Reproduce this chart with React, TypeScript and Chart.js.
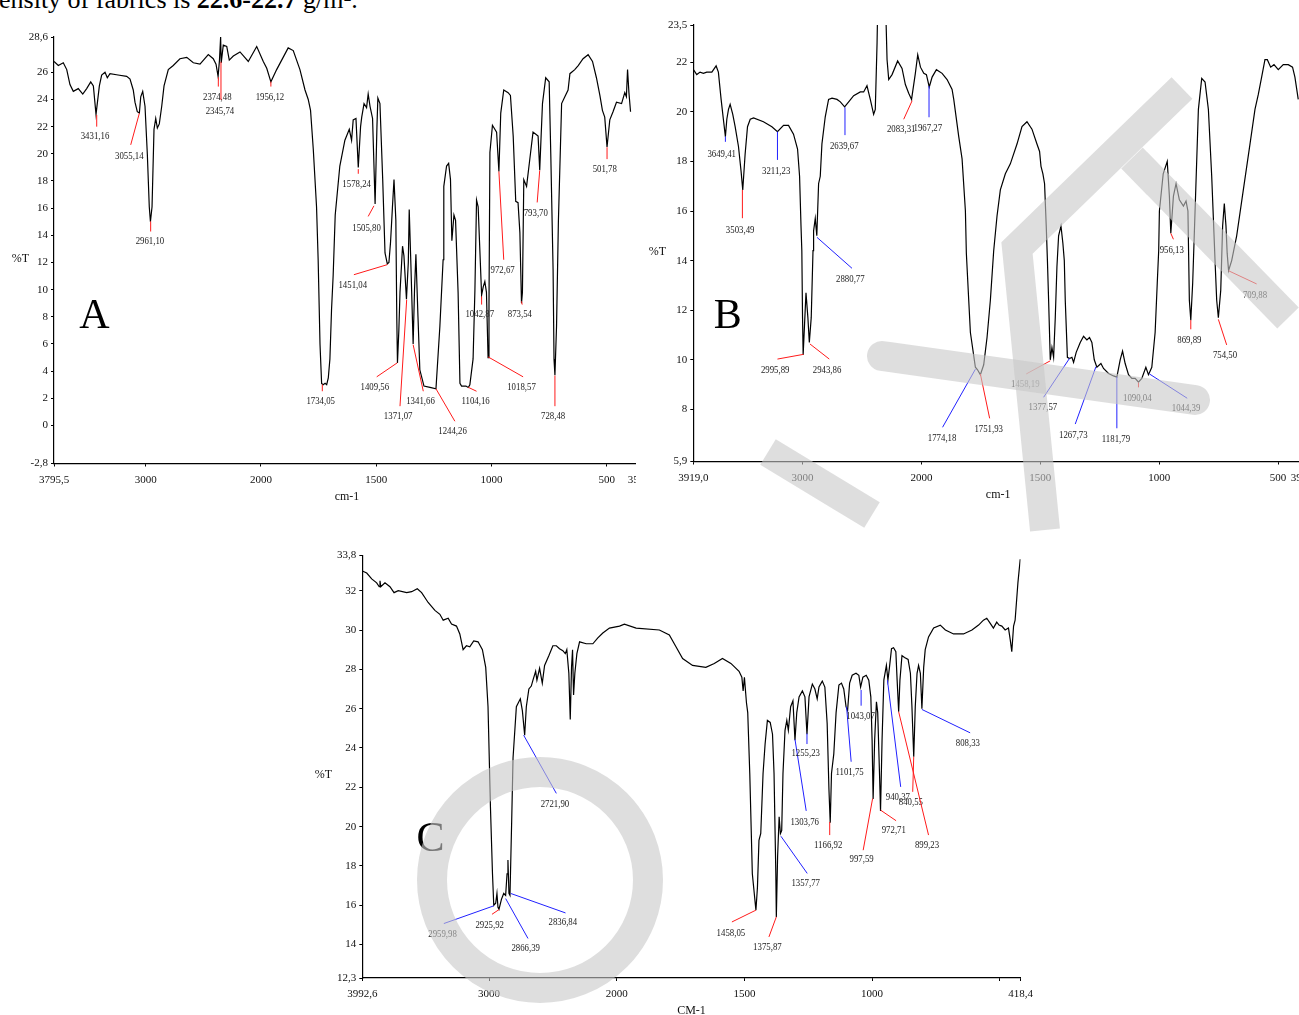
import React, { useEffect, useRef } from "react";
import { Chart, registerables } from "chart.js";

Chart.register(...registerables);

// ---------- Spectrum A: [wavenumber cm-1, %T] ----------
const A_SPECTRUM: [number, number][] = [
  [3795.5, 26.8], [3758, 26.5], [3715, 26.7], [3685, 26.2], [3657, 25.1], [3628, 24.6], [3585, 24.8], [3546, 24.4],
  [3512, 24.8], [3477, 25.3], [3454, 25.0], [3431, 22.9], [3402, 25.0], [3382, 25.8], [3353, 26.0], [3333, 25.6],
  [3310, 25.9], [3240, 25.8], [3165, 25.7], [3136, 25.5], [3108, 24.7], [3093, 23.8], [3073, 23.1], [3055, 23.0],
  [3043, 24.2], [3026, 24.6], [3006, 23.5], [2986, 20.0], [2969, 16.1], [2959, 15.0], [2945, 16.1], [2928, 21.8],
  [2913, 22.6], [2899, 21.9], [2882, 22.2], [2861, 23.5], [2841, 25.0], [2804, 26.2], [2761, 26.5], [2703, 27.0],
  [2644, 27.1], [2587, 26.7], [2529, 26.6], [2457, 27.3], [2414, 27.0], [2390, 26.6], [2372, 25.7], [2360, 26.9],
  [2350, 28.6], [2345, 26.7], [2327, 28.0], [2297, 27.9], [2275, 26.9], [2240, 27.2], [2182, 27.5], [2110, 26.8],
  [2037, 27.9], [1990, 26.8], [1975, 26.3], [1957, 25.3], [1932, 26.2], [1882, 27.8], [1860, 27.6], [1831, 26.2],
  [1809, 24.7], [1795, 24.0], [1785, 23.2], [1773, 20.3], [1759, 16.1], [1752, 12.2], [1744, 6.0], [1737, 3.1],
  [1730, 3.0], [1722, 3.1], [1715, 3.0], [1708, 3.5], [1701, 4.9], [1694, 8.5], [1687, 11.0], [1678, 15.5],
  [1658, 19.1], [1636, 21.0], [1617, 21.8], [1607, 21.0], [1600, 22.5], [1588, 22.6], [1578, 19.0], [1568, 22.0],
  [1563, 22.7], [1553, 23.7], [1542, 23.4], [1535, 24.4], [1527, 23.5], [1516, 22.6], [1505, 16.3], [1497, 22.0],
  [1493, 24.1], [1484, 23.7], [1472, 18.1], [1462, 12.7], [1452, 11.9], [1445, 12.0], [1438, 13.5], [1430, 16.0],
  [1423, 18.1], [1415, 15.1], [1411, 8.0], [1408, 4.6], [1402, 7.0], [1397, 9.8], [1386, 13.2], [1380, 12.5],
  [1369, 9.3], [1361, 12.0], [1357, 15.9], [1350, 12.0], [1340, 6.0], [1334, 10.0], [1328, 12.6], [1319, 8.0],
  [1311, 4.1], [1293, 2.9], [1267, 2.8], [1241, 2.7], [1224, 7.3], [1210, 12.2], [1207, 17.6], [1195, 19.1],
  [1186, 19.3], [1178, 18.1], [1172, 13.6], [1163, 15.5], [1156, 15.1], [1145, 9.8], [1137, 3.1], [1130, 2.9],
  [1111, 2.9], [1101, 2.8], [1094, 3.0], [1080, 4.9], [1072, 10.0], [1065, 16.6], [1058, 16.1], [1043, 9.6],
  [1036, 10.2], [1029, 10.6], [1022, 9.8], [1015, 5.0], [1011, 9.0], [1007, 20.1], [996, 22.1], [978, 21.6],
  [968, 18.7], [960, 23.0], [947, 24.7], [928, 24.5], [918, 24.3], [906, 21.3], [895, 16.5], [885, 16.4],
  [877, 14.2], [870, 9.0], [866, 9.8], [860, 18.1], [848, 17.6], [834, 19.6], [820, 21.6], [805, 21.4],
  [798, 21.3], [791, 18.8], [779, 23.7], [765, 25.6], [750, 25.3], [743, 20.0], [733, 11.5], [729, 4.9],
  [725, 3.7], [718, 7.3], [710, 15.0], [696, 23.7], [682, 24.2], [668, 24.7], [660, 25.9], [639, 26.2],
  [624, 26.5], [603, 27.0], [581, 27.3], [562, 26.8], [545, 25.6], [530, 24.3], [519, 23.2], [509, 22.7],
  [499, 20.5], [487, 22.5], [473, 23.1], [458, 23.8], [436, 23.7], [422, 24.5], [415, 24.2], [410, 26.2],
  [404, 24.5], [397, 23.1],
];
const A_X_TICKS = [3795.5, 3000, 2000, 1500, 1000, 500, 356];
const A_X_TICK_LABELS = ["3795,5", "3000", "2000", "1500", "1000", "500", "356,0"];
const A_Y_TICKS = [-2.8, 0, 2, 4, 6, 8, 10, 12, 14, 16, 18, 20, 22, 24, 26, 28.6];
// [label, line from (w,T), line to (w,T), label centre (w,T), colour]
const A_PEAKS: [string, number, number, number, number, number, number, string][] = [
  ["3431,16", 3425, 22.86, 3425, 22.0, 3440, 21.34, "r"],
  ["3055,14", 3055, 22.99, 3130, 20.66, 3142, 19.85, "r"],
  ["2961,10", 2957, 15.02, 2957, 14.28, 2963, 13.6, "r"],
  ["2374,48", 2370, 25.64, 2370, 24.95, 2379, 24.26, "r"],
  ["2345,74", 2347, 26.78, 2347, 23.97, 2356, 23.23, "r"],
  ["1956,12", 1957, 25.31, 1957, 24.95, 1961, 24.21, "r"],
  ["1734,05", 1734, 3.01, 1734, 2.52, 1741, 1.84, "r"],
  ["1578,24", 1578, 18.87, 1578, 18.53, 1585, 17.84, "r"],
  ["1505,80", 1510, 16.17, 1535, 15.39, 1542, 14.61, "r"],
  ["1451,04", 1452, 11.84, 1597, 11.1, 1602, 10.36, "r"],
  ["1409,56", 1409, 4.61, 1498, 3.58, 1506, 2.84, "r"],
  ["1371,07", 1368, 9.26, 1397, 1.42, 1405, 0.73, "r"],
  ["1341,66", 1340, 5.95, 1296, 2.52, 1308, 1.84, "r"],
  ["1244,26", 1241, 2.7, 1159, 0.31, 1169, -0.35, "r"],
  ["1104,16", 1101, 2.81, 1065, 2.52, 1069, 1.84, "r"],
  ["1042,87", 1043, 9.5, 1043, 8.9, 1051, 8.23, "r"],
  ["1018,57", 1015, 5.05, 863, 3.58, 870, 2.84, "r"],
  ["972,67", 968, 18.7, 947, 12.2, 952, 11.47, "r"],
  ["873,54", 870, 9.14, 867, 8.9, 877, 8.23, "r"],
  ["793,70", 791, 18.77, 802, 16.42, 808, 15.68, "r"],
  ["728,48", 725, 3.67, 725, 1.42, 733, 0.73, "r"],
  ["501,78", 499, 20.49, 499, 19.61, 509, 18.95, "r"],
];

// ---------- Spectrum B ----------
const B_SPECTRUM: [number, number][] = [
  [3918, 21.7], [3890, 21.5], [3862, 21.6], [3834, 21.55], [3806, 21.6], [3763, 21.6], [3727, 21.85], [3708, 21.6],
  [3685, 20.5], [3666, 19.7], [3649, 19.0], [3637, 19.7], [3623, 20.1], [3609, 20.3], [3587, 19.9], [3567, 19.4],
  [3539, 18.6], [3517, 17.6], [3503, 16.85], [3483, 18.3], [3463, 19.4], [3440, 19.7], [3412, 19.75], [3329, 19.6],
  [3258, 19.4], [3211, 19.2], [3160, 19.45], [3118, 19.45], [3076, 19.1], [3042, 18.5], [3025, 17.4], [3013, 15.4],
  [3006, 14.4], [3000, 11.7], [2995, 10.2], [2971, 12.7], [2955, 11.7], [2943, 10.7], [2927, 11.7], [2912, 14.4],
  [2907, 15.2], [2893, 15.7], [2880, 15.0], [2865, 17.1], [2851, 17.4], [2837, 18.7], [2809, 19.8], [2781, 20.5],
  [2752, 20.55], [2710, 20.5], [2682, 20.4], [2646, 20.2], [2612, 20.4], [2570, 20.65], [2514, 20.8], [2486, 20.8],
  [2458, 21.05], [2430, 20.5], [2402, 19.9], [2388, 20.1], [2373, 22.8], [2365, 25.0], [2305, 25.0], [2289, 22.1],
  [2275, 21.3], [2247, 21.5], [2200, 22.05], [2163, 21.75], [2135, 21.1], [2107, 20.75], [2083, 20.5], [2051, 21.55],
  [2031, 22.3], [2008, 21.8], [1990, 21.55], [1979, 21.5], [1967, 21.0], [1955, 21.4], [1937, 21.7], [1913, 21.55],
  [1892, 21.3], [1871, 20.9], [1864, 20.5], [1843, 19.0], [1829, 18.1], [1815, 16.0], [1811, 14.3], [1801, 12.4],
  [1794, 11.1], [1773, 9.7], [1764, 9.6], [1752, 9.4], [1738, 9.8], [1724, 10.9], [1710, 12.4], [1696, 14.4],
  [1682, 15.8], [1668, 16.85], [1647, 17.5], [1626, 17.9], [1598, 18.7], [1577, 19.4], [1556, 19.6], [1535, 19.3],
  [1514, 18.7], [1503, 18.4], [1497, 17.8], [1489, 17.5], [1482, 17.1], [1475, 15.4], [1470, 14.0], [1465, 12.4],
  [1458, 10.0], [1451, 10.5], [1444, 10.1], [1437, 11.7], [1430, 13.75], [1423, 15.0], [1413, 15.4], [1405, 14.7],
  [1399, 14.0], [1395, 12.4], [1386, 10.1], [1377, 10.05], [1367, 10.1], [1360, 9.9], [1349, 10.3], [1332, 10.7],
  [1318, 10.95], [1304, 10.8], [1293, 10.9], [1283, 10.7], [1273, 10.0], [1262, 9.7], [1245, 9.85], [1234, 9.65],
  [1213, 9.45], [1192, 9.35], [1178, 9.3], [1164, 10.0], [1154, 10.35], [1143, 9.85], [1129, 9.4], [1115, 9.25],
  [1101, 9.25], [1087, 9.1], [1073, 9.25], [1056, 9.7], [1045, 9.4], [1031, 9.7], [1017, 11.1], [1008, 13.1],
  [1002, 14.4], [999, 16.0], [983, 17.5], [966, 18.0], [957, 16.6], [951, 15.1], [940, 16.6], [929, 17.1],
  [915, 16.45], [898, 16.2], [887, 16.4], [879, 16.0], [873, 12.4], [867, 11.6], [859, 13.1], [849, 16.0],
  [835, 20.1], [821, 21.35], [807, 21.2], [793, 20.1], [779, 17.4], [765, 14.0], [758, 12.4], [751, 11.7],
  [741, 12.8], [733, 15.4], [726, 16.3], [719, 15.4], [714, 14.3], [708, 13.6], [695, 14.0], [674, 15.0],
  [646, 16.85], [618, 18.7], [597, 20.1], [583, 20.7], [569, 21.4], [555, 22.1], [545, 22.1], [531, 21.8],
  [517, 21.9], [499, 21.7], [478, 21.9], [457, 21.9], [439, 21.8], [429, 21.4], [415, 20.5],
];
const B_X_TICKS = [3919, 3000, 2000, 1500, 1000, 500, 395];
const B_X_TICK_LABELS = ["3919,0", "3000", "2000", "1500", "1000", "500", "395,0"];
const B_Y_TICKS = [5.9, 8, 10, 12, 14, 16, 18, 20, 22, 23.5];
const B_PEAKS: [string, number, number, number, number, number, number, string][] = [
  ["3649,41", 3649, 19.0, 3649, 18.79, 3680, 18.33, "b"],
  ["3503,49", 3506, 16.85, 3506, 15.71, 3525, 15.27, "r"],
  ["3211,23", 3211, 19.2, 3211, 18.06, 3222, 17.62, "b"],
  ["2639,67", 2643, 20.18, 2643, 19.06, 2649, 18.66, "b"],
  ["2083,31", 2078, 20.45, 2149, 19.7, 2170, 19.33, "r"],
  ["1967,27", 1968, 21.04, 1968, 19.78, 1973, 19.38, "b"],
  ["2880,77", 2879, 14.94, 2584, 13.69, 2598, 13.29, "b"],
  ["2995,89", 2992, 10.22, 3211, 10.03, 3230, 9.62, "r"],
  ["2943,86", 2938, 10.64, 2775, 10.03, 2794, 9.62, "r"],
  ["1774,18", 1773, 9.62, 1911, 7.28, 1913, 6.87, "b"],
  ["1751,93", 1752, 9.43, 1713, 7.64, 1717, 7.24, "r"],
  ["1458,19", 1458, 9.96, 1559, 9.43, 1563, 9.05, "r"],
  ["1377,57", 1377, 10.06, 1486, 8.49, 1489, 8.11, "b"],
  ["1267,73", 1266, 9.72, 1353, 7.41, 1361, 7.01, "b"],
  ["1181,79", 1178, 9.32, 1178, 7.24, 1182, 6.83, "b"],
  ["1090,04", 1087, 9.08, 1087, 8.89, 1092, 8.49, "r"],
  ["1044,39", 1041, 9.43, 882, 8.45, 887, 8.07, "b"],
  ["956,13", 951, 15.1, 940, 14.86, 947, 14.46, "r"],
  ["869,89", 867, 11.6, 867, 11.23, 873, 10.83, "r"],
  ["754,50", 751, 11.63, 716, 10.6, 723, 10.22, "r"],
  ["709,88", 708, 13.59, 590, 13.06, 597, 12.65, "r"],
];

// ---------- Spectrum C ----------
const C_SPECTRUM: [number, number][] = [
  [3992.6, 33.0], [3958, 32.9], [3919, 32.6], [3880, 32.4], [3860, 32.2], [3854, 32.5], [3848, 32.2], [3815, 32.4],
  [3776, 32.2], [3744, 31.9], [3711, 32.0], [3645, 31.9], [3606, 31.95], [3562, 32.1], [3528, 31.9], [3477, 31.4],
  [3424, 31.0], [3385, 30.8], [3359, 30.5], [3320, 30.6], [3294, 30.3], [3255, 30.2], [3229, 29.8], [3203, 29.0],
  [3177, 29.2], [3151, 29.15], [3120, 29.45], [3086, 29.4], [3052, 29.0], [3026, 28.1], [3008, 26.1], [2989, 21.0],
  [2973, 17.6], [2963, 16.0], [2948, 16.1], [2938, 16.6], [2930, 15.9], [2922, 15.8], [2903, 16.3], [2885, 16.6],
  [2870, 16.5], [2859, 17.6], [2852, 18.3], [2844, 16.6], [2836, 16.5], [2823, 20.2], [2812, 23.5], [2786, 26.1],
  [2755, 26.5], [2739, 25.9], [2721, 24.65], [2708, 26.1], [2688, 27.0], [2669, 27.15], [2656, 27.45], [2635, 27.9],
  [2625, 27.45], [2604, 28.05], [2583, 27.3], [2565, 28.2], [2531, 28.7], [2500, 29.2], [2473, 29.2], [2448, 29.05],
  [2422, 28.95], [2403, 28.8], [2391, 29.0], [2375, 27.8], [2364, 25.45], [2354, 28.1], [2346, 29.0], [2338, 26.7],
  [2328, 27.8], [2312, 28.8], [2291, 29.4], [2239, 29.3], [2187, 29.3], [2148, 29.6], [2109, 29.85], [2057, 30.1],
  [1989, 30.2], [1970, 30.3], [1924, 30.1], [1833, 30.0], [1794, 29.75], [1768, 29.15], [1742, 28.55], [1703, 28.2],
  [1651, 28.1], [1618, 28.3], [1586, 28.55], [1553, 28.3], [1521, 27.9], [1510, 27.6], [1505, 26.9], [1500, 27.6],
  [1492, 26.3], [1487, 25.8], [1479, 22.7], [1469, 17.6], [1455, 15.75], [1449, 16.9], [1443, 19.3], [1436, 19.65],
  [1427, 22.7], [1419, 24.2], [1410, 25.4], [1399, 25.3], [1390, 24.7], [1384, 22.7], [1377, 17.6], [1375, 15.4],
  [1370, 18.5], [1364, 20.5], [1359, 19.65], [1354, 19.8], [1349, 22.7], [1341, 24.9], [1334, 25.4], [1328, 24.9],
  [1319, 26.1], [1310, 26.4], [1302, 24.4], [1295, 25.8], [1286, 26.6], [1273, 26.9], [1263, 26.6], [1255, 24.7],
  [1247, 26.6], [1234, 27.25], [1224, 27.0], [1215, 26.5], [1208, 27.1], [1195, 27.4], [1185, 27.1], [1176, 25.25],
  [1169, 21.9], [1164, 20.2], [1159, 22.7], [1150, 23.7], [1141, 25.8], [1130, 27.2], [1120, 27.3], [1111, 27.0],
  [1102, 26.1], [1096, 25.9], [1088, 27.3], [1078, 27.7], [1063, 27.8], [1052, 27.7], [1045, 27.1], [1036, 27.6],
  [1023, 27.7], [1013, 27.45], [1005, 26.6], [1000, 24.4], [996, 21.4], [990, 24.4], [983, 26.35], [978, 25.8],
  [971, 22.7], [967, 20.8], [961, 24.4], [954, 27.45], [944, 28.2], [938, 27.45], [932, 28.1], [924, 29.05],
  [916, 29.1], [907, 28.9], [902, 27.45], [896, 25.85], [891, 27.45], [883, 28.7], [873, 28.6], [859, 28.5],
  [850, 27.8], [844, 26.1], [837, 23.55], [831, 26.1], [824, 27.8], [818, 28.2], [811, 27.8], [805, 26.0],
  [798, 28.1], [792, 29.0], [779, 29.65], [759, 30.1], [733, 30.25], [713, 30.0], [681, 29.8], [642, 29.8],
  [609, 30.0], [583, 30.25], [564, 30.5], [551, 30.6], [538, 30.35], [525, 30.1], [512, 30.4], [503, 30.25],
  [492, 30.2], [479, 30.0], [466, 30.1], [459, 29.5], [453, 28.9], [446, 30.2], [440, 30.5], [429, 32.4],
  [420, 33.6],
];
const C_X_TICKS = [3992.6, 3000, 2000, 1500, 1000, 500, 418.4];
const C_X_TICK_LABELS = ["3992,6", "3000", "2000", "1500", "1000", "", "418,4"];
const C_Y_TICKS = [12.3, 14, 16, 18, 20, 22, 24, 26, 28, 30, 32, 33.8];
const C_PEAKS: [string, number, number, number, number, number, number, string][] = [
  ["2959,98", 2963, 15.97, 3354, 15.07, 3364, 14.56, "b"],
  ["2925,92", 2922, 15.78, 2977, 15.54, 2995, 15.04, "r"],
  ["2866,39", 2870, 16.34, 2695, 14.31, 2713, 13.88, "b"],
  ["2836,84", 2830, 16.6, 2401, 15.61, 2422, 15.19, "b"],
  ["2721,90", 2729, 24.65, 2473, 21.69, 2484, 21.18, "b"],
  ["1458,05", 1455, 15.75, 1549, 15.15, 1553, 14.64, "r"],
  ["1375,87", 1375, 15.41, 1404, 14.39, 1410, 13.92, "r"],
  ["1357,77", 1357, 19.51, 1254, 17.62, 1260, 17.14, "b"],
  ["1303,76", 1302, 24.44, 1258, 20.8, 1264, 20.29, "b"],
  ["1255,23", 1255, 24.74, 1255, 24.2, 1260, 23.75, "b"],
  ["1166,92", 1166, 20.24, 1166, 19.57, 1172, 19.09, "r"],
  ["1101,75", 1100, 26.1, 1082, 23.3, 1088, 22.79, "b"],
  ["1043,07", 1043, 26.95, 1043, 26.15, 1045, 25.64, "b"],
  ["997,59", 998, 21.43, 1035, 18.8, 1041, 18.38, "r"],
  ["972,71", 967, 20.84, 906, 20.3, 915, 19.86, "r"],
  ["940,37", 940, 27.45, 888, 22.02, 899, 21.55, "b"],
  ["840,55", 837, 23.55, 841, 21.77, 848, 21.26, "r"],
  ["899,23", 896, 25.84, 779, 19.57, 785, 19.09, "r"],
  ["808,33", 805, 25.96, 616, 24.77, 625, 24.28, "b"],
];

const SERIF = '"Liberation Serif", "Times New Roman", serif';

// The instrument plots the region above 2000 cm-1 at half scale.
const fold = (w: number) => (w <= 2000 ? w : 2000 + (w - 2000) / 2);
const fmt = (v: number) => (Number.isInteger(v) ? String(v) : v.toFixed(1).replace(".", ","));

type Spec = {
  points: [number, number][];
  xMax: number; xMin: number; xTicks: number[]; xTickLabels: string[];
  yMin: number; yMax: number; yTicks: number[];
  peaks: [string, number, number, number, number, number, number, string][];
  letter: [string, number, number];
  axisTitle: string;
  width: number; height: number; yAxisWidth: number; padTop: number; padRight: number; xAxisHeight: number;
  yTitleDx: number;
};

function makePlugin(spec: Spec) {
  return {
    id: "peakLabels",
    afterDraw(chart: any) {
      const { ctx, chartArea, scales } = chart;
      const xs = scales.x, ys = scales.y;
      const X = (w: number) => xs.getPixelForValue(fold(w));
      const Y = (t: number) => ys.getPixelForValue(t);
      ctx.save();
      ctx.lineWidth = 1;
      for (const [label, w1, t1, w2, t2, wl, tl, col] of spec.peaks) {
        ctx.strokeStyle = col === "b" ? "#2020ff" : "#ff1a1a";
        ctx.beginPath();
        ctx.moveTo(X(w1), Y(t1));
        ctx.lineTo(X(w2), Y(t2));
        ctx.stroke();
        ctx.save();
        ctx.translate(X(wl), Y(tl) + 3.6);
        ctx.scale(0.8, 1);
        ctx.font = `11px ${SERIF}`;
        ctx.textAlign = "center";
        ctx.textBaseline = "alphabetic";
        ctx.fillStyle = "#222";
        ctx.fillText(label, 0, 0);
        ctx.restore();
      }
      const [letter, lw, lt] = spec.letter;
      ctx.font = `42px ${SERIF}`;
      ctx.textAlign = "center";
      ctx.textBaseline = "alphabetic";
      ctx.fillStyle = "#000";
      ctx.fillText(letter, X(lw), Y(lt) + 14);
      ctx.font = `12px ${SERIF}`;
      ctx.fillStyle = "#111";
      ctx.textBaseline = "middle";
      ctx.fillText("%T", chartArea.left + spec.yTitleDx, (chartArea.top + chartArea.bottom) / 2 + 8.5);
      ctx.fillText(spec.axisTitle, (chartArea.left + chartArea.right) / 2, chartArea.bottom + 33);
      ctx.restore();
    },
  };
}

function buildConfig(spec: Spec): any {
  const tickFont = { family: SERIF, size: 11 };
  return {
    type: "line",
    data: {
      datasets: [
        {
          data: spec.points.map(([w, t]) => ({ x: fold(w), y: t })),
          borderColor: "#000",
          borderWidth: 1.2,
          pointRadius: 0,
          tension: 0,
          fill: false,
        },
      ],
    },
    options: {
      animation: false,
      responsive: false,
      devicePixelRatio: 1,
      events: [],
      parsing: false,
      layout: { padding: { top: spec.padTop, right: spec.padRight, left: 0, bottom: 0 } },
      plugins: { legend: { display: false }, tooltip: { enabled: false }, title: { display: false } },
      scales: {
        x: {
          type: "linear",
          reverse: true,
          min: fold(spec.xMin),
          max: fold(spec.xMax),
          afterBuildTicks: (axis: any) => {
            axis.ticks = spec.xTicks.map((v) => ({ value: fold(v) }));
          },
          afterFit: (axis: any) => {
            axis.height = spec.xAxisHeight;
          },
          ticks: {
            autoSkip: false,
            maxRotation: 0,
            minRotation: 0,
            font: tickFont,
            color: "#111",
            padding: 7,
            callback: (_v: number, i: number) => spec.xTickLabels[i],
          },
          grid: { drawOnChartArea: false, drawTicks: true, tickLength: 3, color: "#000" },
          border: { display: true, color: "#000", width: 1.2 },
        },
        y: {
          type: "linear",
          min: spec.yMin,
          max: spec.yMax,
          afterBuildTicks: (axis: any) => {
            axis.ticks = spec.yTicks.map((v) => ({ value: v }));
          },
          afterFit: (axis: any) => {
            axis.width = spec.yAxisWidth;
          },
          ticks: {
            autoSkip: false,
            font: tickFont,
            color: "#111",
            padding: 3,
            callback: (v: number) => fmt(v),
          },
          grid: { drawOnChartArea: false, drawTicks: true, tickLength: 3, color: "#000" },
          border: { display: true, color: "#000", width: 1.2 },
        },
      },
    },
    plugins: [makePlugin(spec)],
  };
}

const SPEC_A: Spec = {
  points: A_SPECTRUM, xMax: 3795.5, xMin: 356, xTicks: A_X_TICKS, xTickLabels: A_X_TICK_LABELS,
  yMin: -2.8, yMax: 28.6, yTicks: A_Y_TICKS, peaks: A_PEAKS, letter: ["A", 3444, 8.23], axisTitle: "cm-1",
  width: 660, height: 505, yAxisWidth: 54, padTop: 37, padRight: 20, xAxisHeight: 41.5, yTitleDx: -33.5,
};
const SPEC_B: Spec = {
  points: B_SPECTRUM, xMax: 3919, xMin: 395, xTicks: B_X_TICKS, xTickLabels: B_X_TICK_LABELS,
  yMin: 5.9, yMax: 23.5, yTicks: B_Y_TICKS, peaks: B_PEAKS, letter: ["B", 3630, 11.85], axisTitle: "cm-1",
  width: 683, height: 505, yAxisWidth: 53.3, padTop: 25, padRight: 20, xAxisHeight: 43.5, yTitleDx: -35.8,
};
const SPEC_C: Spec = {
  points: C_SPECTRUM, xMax: 3992.6, xMin: 418.4, xTicks: C_X_TICKS, xTickLabels: C_X_TICK_LABELS,
  yMin: 12.3, yMax: 33.8, yTicks: C_Y_TICKS, peaks: C_PEAKS, letter: ["C", 3459, 19.46], axisTitle: "CM-1",
  width: 740, height: 485, yAxisWidth: 62.3, padTop: 25.3, padRight: 17.8, xAxisHeight: 37, yTitleDx: -38.8,
};

function SpectrumChart({ spec }: { spec: Spec }) {
  const ref = useRef<HTMLCanvasElement>(null);
  useEffect(() => {
    const chart = new Chart(ref.current as HTMLCanvasElement, buildConfig(spec));
    return () => chart.destroy();
  }, [spec]);
  return (
    <canvas
      ref={ref}
      width={spec.width}
      height={spec.height}
      style={{ width: spec.width, height: spec.height, display: "block" }}
    />
  );
}

// light grey watermark lying over the scanned figure
const WM = "rgba(200,200,200,0.6)";

export default function App() {
  return (
    <div
      style={{
        position: "fixed", left: 0, top: 0, width: 1299, height: 1015,
        overflow: "hidden", background: "#fff",
      }}
    >
      <div
        style={{
          position: "absolute", left: -14, top: -13, fontFamily: SERIF, fontSize: 26,
          lineHeight: "26px", whiteSpace: "nowrap", color: "#000",
        }}
      >
        density of fabrics is <b>22.6-22.7</b> g/m².
      </div>
      <div style={{ position: "absolute", left: 0, top: 0, width: 636, height: 505, overflow: "hidden" }}>
        <SpectrumChart spec={SPEC_A} />
      </div>
      <div style={{ position: "absolute", left: 640, top: 0, width: 683, height: 505 }}>
        <SpectrumChart spec={SPEC_B} />
      </div>
      <div style={{ position: "absolute", left: 300, top: 530, width: 740, height: 485 }}>
        <SpectrumChart spec={SPEC_C} />
      </div>
      <svg
        width={1299}
        height={1015}
        style={{ position: "absolute", left: 0, top: 0, pointerEvents: "none" }}
      >
        <g fill="none" stroke={WM} strokeWidth={30}>
          <circle cx={540} cy={880} r={108} />
          <polyline points="1045,530 1017,248 1182,88" strokeLinejoin="miter" />
          <line x1={1132} y1={158} x2={1288} y2={318} />
          <line x1={882} y1={356} x2={1195} y2={400} strokeLinecap="round" />
          <line x1={768} y1={452} x2={872} y2={515} />
        </g>
      </svg>
    </div>
  );
}
